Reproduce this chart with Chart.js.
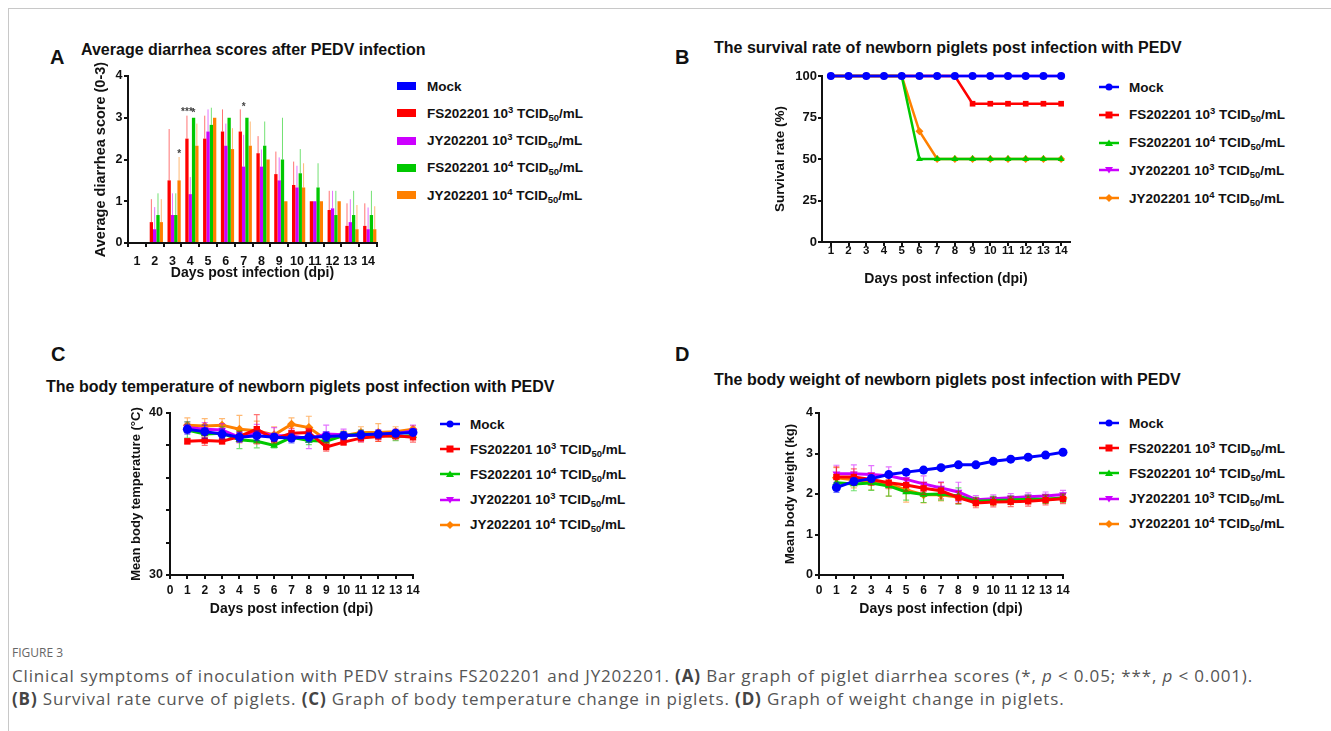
<!DOCTYPE html>
<html>
<head>
<meta charset="utf-8">
<title>Figure 3</title>
<script src="https://cdn.jsdelivr.net/npm/chart.js@4.4.1/dist/chart.umd.min.js"></script>
<style>
  html, body { margin: 0; padding: 0; background: #fff; }
  body { width: 1331px; height: 731px; position: relative; overflow: hidden; font-family: Arial, 'Liberation Sans', Helvetica, sans-serif; color: #111; }
  .frame { position: absolute; left: 8px; top: 8px; right: 0; bottom: 0; border-left: 1px solid #c8c8c8; border-top: 1px solid #c8c8c8; }
  .letter { position: absolute; font-weight: bold; font-size: 20px; line-height: 20px; }
  .ptitle { position: absolute; font-weight: bold; font-size: 16px; line-height: 18px; white-space: nowrap; }
  canvas { position: absolute; }
  .legend { position: absolute; margin: 0; padding: 0; list-style: none; font-weight: bold; font-size: 13.5px; }
  .legend li { position: absolute; left: 0; height: 20px; display: flex; align-items: center; white-space: nowrap; }
  .legend svg { display: block; flex: none; }
  sup { font-size: 0.7em; vertical-align: 0.5em; line-height: 0; }
  sub { font-size: 0.7em; vertical-align: -0.35em; line-height: 0; }
  .fig-label { position: absolute; left: 12px; top: 644px; font-family: 'Open Sans', sans-serif; font-size: 12px; color: #666; }
  .caption { position: absolute; left: 12px; font-family: 'Open Sans', sans-serif; font-size: 17px; letter-spacing: 0.85px; color: #555; white-space: nowrap; }
  .caption b { color: #444; }
</style>
</head>
<body>
<div class="frame"></div>

<div class="letter" style="left:50px; top:47px;">A</div>
<div class="ptitle" style="left:81px; top:41px;">Average diarrhea scores after PEDV infection</div>
<canvas id="chartA" width="289" height="236" style="left:92px; top:46px;"></canvas>
<ul class="legend" id="legendA" style="left:397px; top:0;"></ul>

<div class="letter" style="left:675px; top:47px;">B</div>
<div class="ptitle" style="left:714px; top:39px;">The survival rate of newborn piglets post infection with PEDV</div>
<canvas id="chartB" width="302" height="222" style="left:772px; top:66px;"></canvas>
<ul class="legend" id="legendB" style="left:1099px; top:0;"></ul>

<div class="letter" style="left:51px; top:344px;">C</div>
<div class="ptitle" style="left:46px; top:378px;">The body temperature of newborn piglets post infection with PEDV</div>
<canvas id="chartC" width="292" height="215" style="left:129px; top:403px;"></canvas>
<ul class="legend" id="legendC" style="left:440px; top:0;"></ul>

<div class="letter" style="left:675px; top:344px;">D</div>
<div class="ptitle" style="left:714px; top:371px;">The body weight of newborn piglets post infection with PEDV</div>
<canvas id="chartD" width="288" height="215" style="left:783px; top:403px;"></canvas>
<ul class="legend" id="legendD" style="left:1099px; top:0;"></ul>

<div class="fig-label">FIGURE 3</div>
<div class="caption" style="top:664px;">Clinical symptoms of inoculation with PEDV strains FS202201 and JY202201. <b>(A)</b> Bar graph of piglet diarrhea scores (*, <i>p</i> &lt; 0.05; ***, <i>p</i> &lt; 0.001).</div>
<div class="caption" style="top:687px;"><b>(B)</b> Survival rate curve of piglets. <b>(C)</b> Graph of body temperature change in piglets. <b>(D)</b> Graph of weight change in piglets.</div>

<script>
// days post infection
var DAYS = [1, 2, 3, 4, 5, 6, 7, 8, 9, 10, 11, 12, 13, 14];
var DAY_LABELS = ['1', '2', '3', '4', '5', '6', '7', '8', '9', '10', '11', '12', '13', '14'];

// A - diarrhea score (mean, upper SD)
var SCORE_MOCK = [0, 0, 0, 0, 0, 0, 0, 0, 0, 0, 0, 0, 0, 0];
var SCORE_FS3 = [0, 0.5, 1.5, 2.5, 2.5, 2.67, 2.67, 2.15, 1.65, 1.39, 1.0, 0.79, 0.41, 0.41];
var SCORE_FS3_SD = [0, 0.55, 1.23, 0.55, 0.55, 0.53, 0.53, 0.41, 0.54, 0.56, 0, 0.46, 0.54, 0.54];
var SCORE_JY3 = [0, 0.33, 0.67, 1.17, 2.67, 2.33, 1.83, 1.83, 1.5, 1.33, 1.0, 0.83, 0.5, 0.33];
var SCORE_JY3_SD = [0, 0.53, 0.52, 0.41, 0.53, 0.53, 0.76, 0.41, 0.55, 0.52, 0, 0.42, 0.55, 0.52];
var SCORE_FS4 = [0, 0.67, 0.67, 3.0, 2.83, 3.0, 3.0, 2.33, 2.0, 1.67, 1.33, 0.67, 0.67, 0.67];
var SCORE_FS4_SD = [0, 0.52, 0.52, 0, 0.41, 0, 0, 0.58, 1.0, 0.58, 0.58, 0.58, 0.58, 0.58];
var SCORE_JY4 = [0, 0.5, 1.5, 2.33, 3.0, 2.25, 2.33, 2.0, 1.0, 1.33, 1.0, 1.0, 0.33, 0.33];
var SCORE_JY4_SD = [0, 0.55, 0.56, 0.53, 0, 0.5, 0.58, 0, 0, 0.58, 0, 0, 0.58, 0.55];
var SCORE_TICKS = [0, 1, 2, 3, 4];
// significance marks: day, series index (0 mock .. 4 JY 10^4), y position, text
var SIG_MARKS = [
  { day: 3, series: 4, value: 2.2, text: '*' },
  { day: 4, series: 1, value: 3.2, text: '***' },
  { day: 4, series: 3, value: 3.17, text: '*' },
  { day: 7, series: 2, value: 3.33, text: '*' }
];

// B - survival rate (%)
var SURV_MOCK = [100, 100, 100, 100, 100, 100, 100, 100, 100, 100, 100, 100, 100, 100];
var SURV_FS3 = [100, 100, 100, 100, 100, 100, 100, 100, 83.3, 83.3, 83.3, 83.3, 83.3, 83.3];
var SURV_FS4 = [100, 100, 100, 100, 100, 50, 50, 50, 50, 50, 50, 50, 50, 50];
var SURV_JY3 = [100, 100, 100, 100, 100, 100, 100, 100, 100, 100, 100, 100, 100, 100];
var SURV_JY4 = [100, 100, 100, 100, 100, 66.7, 50, 50, 50, 50, 50, 50, 50, 50];

// C - body temperature (mean, SD)
var TEMP_MOCK = [39.0, 38.85, 38.7, 38.5, 38.6, 38.5, 38.45, 38.5, 38.55, 38.6, 38.65, 38.7, 38.75, 38.8];
var TEMP_MOCK_SD = [0.3, 0.4, 0.3, 0.3, 0.3, 0.25, 0.3, 0.3, 0.3, 0.25, 0.25, 0.25, 0.2, 0.2];
var TEMP_FS3 = [38.25, 38.3, 38.25, 38.55, 39.0, 38.4, 38.75, 38.8, 37.9, 38.2, 38.45, 38.55, 38.6, 38.5];
var TEMP_FS3_SD = [0.15, 0.3, 0.15, 0.3, 0.9, 0.25, 0.3, 0.25, 0.25, 0.2, 0.25, 0.3, 0.25, 0.3];
var TEMP_FS4 = [38.95, 38.7, 38.75, 38.35, 38.25, 38.0, 38.5, 38.3, 38.25, 38.6, 38.7, 38.65, 38.55, 38.6];
var TEMP_FS4_SD = [0.5, 0.35, 0.4, 0.55, 0.4, 0.15, 0.25, 0.25, 0.2, 0.25, 0.25, 0.2, 0.25, 0.2];
var TEMP_JY3 = [39.1, 39.0, 38.95, 38.5, 38.85, 38.6, 38.6, 38.4, 38.7, 38.65, 38.6, 38.65, 38.7, 38.9];
var TEMP_JY3_SD = [0.35, 0.4, 0.4, 0.3, 0.45, 0.5, 0.35, 0.6, 0.55, 0.35, 0.35, 0.3, 0.3, 0.35];
var TEMP_JY4 = [39.25, 39.2, 39.25, 39.0, 38.9, 38.65, 39.3, 39.1, 38.35, 38.6, 38.8, 38.8, 38.85, 39.0];
var TEMP_JY4_SD = [0.45, 0.45, 0.4, 0.85, 0.6, 0.5, 0.4, 0.7, 0.3, 0.3, 0.35, 0.55, 0.3, 0.2];

// D - body weight kg (mean, SD)
var WEIGHT_MOCK = [2.16, 2.31, 2.38, 2.48, 2.54, 2.59, 2.65, 2.72, 2.72, 2.81, 2.86, 2.91, 2.96, 3.03];
var WEIGHT_MOCK_SD = [0.12, 0.08, 0.07, 0.06, 0.05, 0.05, 0.05, 0.05, 0.05, 0.05, 0.05, 0.05, 0.05, 0.05];
var WEIGHT_FS3 = [2.42, 2.42, 2.36, 2.28, 2.22, 2.14, 2.08, 1.91, 1.78, 1.8, 1.81, 1.82, 1.85, 1.88];
var WEIGHT_FS3_SD = [0.25, 0.2, 0.15, 0.15, 0.15, 0.15, 0.2, 0.15, 0.12, 0.12, 0.12, 0.12, 0.12, 0.12];
var WEIGHT_FS4 = [2.28, 2.25, 2.27, 2.2, 2.05, 1.99, 2.0, 1.95, 1.82, 1.84, 1.85, 1.87, 1.87, 1.9];
var WEIGHT_FS4_SD = [0.2, 0.17, 0.18, 0.25, 0.2, 0.2, 0.15, 0.2, 0.1, 0.1, 0.1, 0.1, 0.1, 0.1];
var WEIGHT_JY3 = [2.5, 2.5, 2.48, 2.45, 2.36, 2.25, 2.15, 2.05, 1.86, 1.88, 1.91, 1.93, 1.95, 1.99];
var WEIGHT_JY3_SD = [0.21, 0.22, 0.22, 0.22, 0.1, 0.2, 0.15, 0.24, 0.1, 0.1, 0.1, 0.1, 0.1, 0.1];
var WEIGHT_JY4 = [2.4, 2.35, 2.3, 2.25, 2.1, 1.98, 1.98, 1.92, 1.8, 1.82, 1.84, 1.86, 1.87, 1.9];
var WEIGHT_JY4_SD = [0.25, 0.2, 0.2, 0.3, 0.3, 0.2, 0.15, 0.15, 0.1, 0.1, 0.1, 0.1, 0.1, 0.1];

var GROUPS = {
  mock: { label: 'Mock', color: '#0000ff', err: 'rgba(0,0,255,0.55)', point: 'circle', rot: 0 },
  fs3: { label: 'FS202201 10<sup>3</sup> TCID<sub>50</sub>/mL', color: '#ff0000', err: 'rgba(255,0,0,0.55)', point: 'rect', rot: 0 },
  fs4: { label: 'FS202201 10<sup>4</sup> TCID<sub>50</sub>/mL', color: '#00c800', err: 'rgba(0,200,0,0.55)', point: 'triangle', rot: 0 },
  jy3: { label: 'JY202201 10<sup>3</sup> TCID<sub>50</sub>/mL', color: '#cc00ff', err: 'rgba(204,0,255,0.55)', point: 'triangle', rot: 180 },
  jy4: { label: 'JY202201 10<sup>4</sup> TCID<sub>50</sub>/mL', color: '#ff8000', err: 'rgba(255,128,0,0.55)', point: 'rectRot', rot: 0 }
};

Chart.defaults.font.family = "Arial, 'Liberation Sans', Helvetica, sans-serif";
Chart.defaults.color = '#111';

function boldFont(size) { return { size: size, weight: 'bold' }; }

// error bars drawn under each dataset, through the y scale
var errorBars = {
  id: 'errorBars',
  beforeDatasetDraw: function (chart, args, opts) {
    var ds = chart.data.datasets[args.index];
    if (!ds.errors) return;
    var yScale = chart.scales.y;
    var ctx = chart.ctx;
    ctx.save();
    ctx.strokeStyle = ds.errorColor;
    ctx.lineWidth = opts.lineWidth || 1;
    args.meta.data.forEach(function (el, i) {
      var e = ds.errors[i];
      if (!e) return;
      var raw = ds.data[i];
      var v = (raw !== null && typeof raw === 'object') ? raw.y : raw;
      var yTop = yScale.getPixelForValue(v + e);
      var yBot = yScale.getPixelForValue(opts.upOnly ? v : v - e);
      var x = el.x;
      ctx.beginPath();
      ctx.moveTo(x, yTop);
      ctx.lineTo(x, yBot);
      if (opts.cap) {
        ctx.moveTo(x - opts.cap, yTop);
        ctx.lineTo(x + opts.cap, yTop);
        if (!opts.upOnly) {
          ctx.moveTo(x - opts.cap, yBot);
          ctx.lineTo(x + opts.cap, yBot);
        }
      }
      ctx.stroke();
    });
    ctx.restore();
  }
};

var sigMarks = {
  id: 'sigMarks',
  afterDatasetsDraw: function (chart, args, opts) {
    if (!opts.marks) return;
    var ctx = chart.ctx;
    var yScale = chart.scales.y;
    ctx.save();
    ctx.fillStyle = '#444';
    ctx.font = 'bold 10px Arial, "Liberation Sans", sans-serif';
    ctx.textAlign = 'center';
    ctx.textBaseline = 'middle';
    opts.marks.forEach(function (m) {
      var el = chart.getDatasetMeta(m.series).data[m.day - 1];
      if (!el) return;
      ctx.fillText(m.text, el.x, yScale.getPixelForValue(m.value) + 3);
    });
    ctx.restore();
  }
};

function pts(values) {
  return values.map(function (v, i) { return { x: DAYS[i], y: v }; });
}

function axis(size, horizontal, opts) {
  var o = {
    border: { display: true, color: '#111', width: 2 },
    grid: { display: true, drawOnChartArea: false, drawTicks: true, tickLength: 4, color: '#111', lineWidth: 2 },
    afterFit: function (scale) {
      if (horizontal) {
        scale.height = size;
        scale.paddingLeft = 0;
        scale.paddingRight = 0;
      } else {
        scale.width = size;
        scale.paddingTop = 0;
        scale.paddingBottom = 0;
      }
    }
  };
  Object.keys(opts).forEach(function (k) { o[k] = opts[k]; });
  return o;
}

function axisTitle(text, size) {
  return { display: true, text: text, font: boldFont(size), padding: 0, color: '#111' };
}

function baseOptions(padTop, padRight) {
  return {
    responsive: false,
    animation: false,
    devicePixelRatio: 1,
    layout: { padding: { top: padTop, right: padRight, left: 0, bottom: 0 } },
    plugins: { legend: { display: false }, tooltip: { enabled: false } }
  };
}

function markerSvg(g, kind) {
  var c = g.color;
  var s = '<svg width="20" height="12" viewBox="0 0 20 12">';
  if (kind === 'bar') {
    s += '<rect x="0" y="2" width="19" height="8" fill="' + c + '"/>';
  } else {
    s += '<line x1="0" y1="6" x2="20" y2="6" stroke="' + c + '" stroke-width="2.5"/>';
    if (g.point === 'circle') s += '<circle cx="10" cy="6" r="3.5" fill="' + c + '"/>';
    else if (g.point === 'rect') s += '<rect x="6.5" y="2.5" width="7" height="7" fill="' + c + '"/>';
    else if (g.point === 'rectRot') s += '<polygon points="10,2 14,6 10,10 6,6" fill="' + c + '"/>';
    else if (g.rot === 180) s += '<polygon points="6,3 14,3 10,9.5" fill="' + c + '"/>';
    else s += '<polygon points="10,2.5 14,9 6,9" fill="' + c + '"/>';
  }
  return s + '</svg>';
}

function renderLegend(id, keys, kind, startY, step, textGap) {
  var ul = document.getElementById(id);
  keys.forEach(function (k, i) {
    var li = document.createElement('li');
    li.style.top = (startY + i * step - 10) + 'px';
    li.innerHTML = markerSvg(GROUPS[k], kind) + '<span style="margin-left:' + textGap + 'px">' + GROUPS[k].label + '</span>';
    ul.appendChild(li);
  });
}

// ---- A: bars
var BAR_KEYS = ['mock', 'fs3', 'jy3', 'fs4', 'jy4'];
var barValues = [SCORE_MOCK, SCORE_FS3, SCORE_JY3, SCORE_FS4, SCORE_JY4];
var barErrors = [null, SCORE_FS3_SD, SCORE_JY3_SD, SCORE_FS4_SD, SCORE_JY4_SD];
var optsA = baseOptions(30, 4);
optsA.plugins.errorBars = { upOnly: true, lineWidth: 1 };
optsA.plugins.sigMarks = { marks: SIG_MARKS };
optsA.scales = {
  x: axis(39, true, {
    type: 'category',
    offset: true,
    ticks: { font: boldFont(12.5), padding: 7, color: '#111', autoSkip: false, maxRotation: 0, minRotation: 0 },
    title: axisTitle('Days post infection (dpi)', 14)
  }),
  y: axis(36, false, {
    min: 0, max: 4,
    afterBuildTicks: function (s) { s.ticks = SCORE_TICKS.map(function (v) { return { value: v }; }); },
    ticks: { font: boldFont(12.5), padding: 1.5, color: '#111' },
    title: axisTitle('Average diarrhea score (0-3)', 14.5)
  })
};
new Chart(document.getElementById('chartA'), {
  type: 'bar',
  data: {
    labels: DAY_LABELS,
    datasets: BAR_KEYS.map(function (k, i) {
      return {
        label: k,
        data: barValues[i],
        errors: barErrors[i],
        errorColor: GROUPS[k].err,
        backgroundColor: GROUPS[k].color,
        borderWidth: 0,
        barPercentage: 1,
        categoryPercentage: 0.93
      };
    })
  },
  options: optsA,
  plugins: [errorBars, sigMarks]
});
renderLegend('legendA', BAR_KEYS, 'bar', 86, 27.3, 10);

// ---- line charts shared
var LINE_KEYS = ['mock', 'fs3', 'fs4', 'jy3', 'jy4'];

function lineDatasets(values, errors, width, radius) {
  return LINE_KEYS.map(function (k, i) {
    var g = GROUPS[k];
    return {
      label: k,
      data: pts(values[i]),
      errors: errors ? errors[i] : null,
      errorColor: g.err,
      borderColor: g.color,
      backgroundColor: g.color,
      borderWidth: width,
      pointStyle: g.point,
      pointRotation: g.rot,
      pointRadius: radius,
      pointBorderWidth: 0,
      pointBackgroundColor: g.color,
      tension: 0,
      clip: false
    };
  });
}

function dayAxis(size, min, max, pad, fontSize, ticksOnDays) {
  var o = {
    type: 'linear', min: min, max: max,
    ticks: {
      font: { size: fontSize, weight: 'bold', lineHeight: 1 },
      padding: pad, color: '#111', stepSize: 1, autoSkip: false, maxRotation: 0, minRotation: 0
    },
    title: axisTitle('Days post infection (dpi)', 14)
  };
  if (ticksOnDays) {
    o.afterBuildTicks = function (s) { s.ticks = DAYS.map(function (v) { return { value: v }; }); };
  }
  return axis(size, true, o);
}

// ---- B: survival
var optsB = baseOptions(10, 4);
optsB.scales = {
  x: dayAxis(46, 0.5, 14.5, -1, 11.5, true),
  y: axis(50, false, {
    min: 0, max: 100,
    ticks: { font: boldFont(13), padding: 1, color: '#111', stepSize: 25 },
    title: axisTitle('Survival rate (%)', 13.5)
  })
};
new Chart(document.getElementById('chartB'), {
  type: 'line',
  data: { datasets: lineDatasets([SURV_MOCK, SURV_FS3, SURV_FS4, SURV_JY3, SURV_JY4], null, 2.5, 4) },
  options: optsB
});
renderLegend('legendB', LINE_KEYS, 'line', 87, 27.8, 10);

// ---- C: temperature
var optsC = baseOptions(10, 8);
optsC.plugins.errorBars = { upOnly: false, lineWidth: 1.2, cap: 3 };
optsC.scales = {
  x: dayAxis(43, 0, 14, 6, 12, false),
  y: axis(41, false, {
    min: 30, max: 40,
    ticks: {
      font: boldFont(12.5), padding: 3, color: '#111', stepSize: 1,
      callback: function (v) { return v % 5 === 0 ? String(v) : ''; }
    },
    title: axisTitle('Mean body temperature (°C)', 13)
  })
};
new Chart(document.getElementById('chartC'), {
  type: 'line',
  data: {
    datasets: lineDatasets(
      [TEMP_MOCK, TEMP_FS3, TEMP_FS4, TEMP_JY3, TEMP_JY4],
      [TEMP_MOCK_SD, TEMP_FS3_SD, TEMP_FS4_SD, TEMP_JY3_SD, TEMP_JY4_SD], 3, 4.5)
  },
  options: optsC,
  plugins: [errorBars]
});
renderLegend('legendC', LINE_KEYS, 'line', 424, 25.2, 10);

// ---- D: weight
var optsD = baseOptions(10, 8);
optsD.plugins.errorBars = { upOnly: false, lineWidth: 1.2, cap: 3 };
optsD.scales = {
  x: dayAxis(43, 0, 14, 6, 12, false),
  y: axis(36, false, {
    min: 0, max: 4,
    ticks: { font: boldFont(12.5), padding: 2, color: '#111', stepSize: 1 },
    title: axisTitle('Mean body weight (kg)', 13)
  })
};
new Chart(document.getElementById('chartD'), {
  type: 'line',
  data: {
    datasets: lineDatasets(
      [WEIGHT_MOCK, WEIGHT_FS3, WEIGHT_FS4, WEIGHT_JY3, WEIGHT_JY4],
      [WEIGHT_MOCK_SD, WEIGHT_FS3_SD, WEIGHT_FS4_SD, WEIGHT_JY3_SD, WEIGHT_JY4_SD], 3, 4.5)
  },
  options: optsD,
  plugins: [errorBars]
});
renderLegend('legendD', LINE_KEYS, 'line', 423, 25.2, 10);
</script>
</body>
</html>
